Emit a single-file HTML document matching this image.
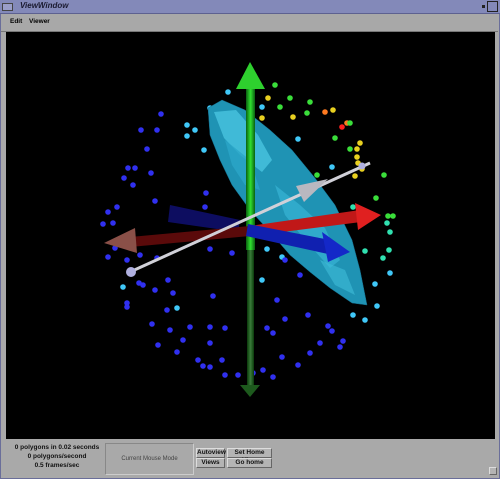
<!DOCTYPE html>
<html><head><meta charset="utf-8"><style>
body{margin:0;width:500px;height:479px;overflow:hidden;background:#a9a9a9;font-family:"Liberation Sans",sans-serif;position:relative}
.abs{position:absolute}
.btn{position:absolute;background:#b4b4b4;border:1px solid #ddd;border-right-color:#666;border-bottom-color:#666;font-size:6.5px;font-weight:bold;text-align:center;line-height:8px;color:#111}
.st{position:absolute;font-size:6.5px;font-weight:bold;color:#111;width:110px;text-align:center;left:2px}
</style></head><body>
<div class="abs" style="left:0;top:0;width:498px;height:477px;border:1px solid #6a6e9a"></div>
<div class="abs" style="left:0;top:0;width:500px;height:13px;background:#8389b9;border-bottom:1px solid #5d6190">
 <div class="abs" style="left:2px;top:3px;width:9px;height:6px;border:1px solid #444;background:#9a9ec8"></div>
 <div class="abs" style="left:20px;top:1px;font-size:8px;font-style:italic;font-weight:bold;color:#1a1a30">ViewWindow</div>
 <div class="abs" style="left:480px;top:3px;width:3px;height:3px;background:#222;margin:2px"></div>
 <div class="abs" style="left:487px;top:1px;width:9px;height:9px;border:1px solid #222"></div>
</div>
<div class="abs" style="left:1px;top:14px;width:497px;height:17px;background:#a8a8a8;border-bottom:1px solid #777">
 <span class="abs" style="left:9px;top:4px;font-size:6.5px;font-weight:bold">Edit</span>
 <span class="abs" style="left:28px;top:4px;font-size:6.5px;font-weight:bold">Viewer</span>
</div>
<svg class="abs" style="left:0;top:0" width="500" height="479">
<defs>
 <linearGradient id="gv" x1="0" x2="1"><stop offset="0" stop-color="#0a6010"/><stop offset=".5" stop-color="#30e030"/><stop offset="1" stop-color="#0a6010"/></linearGradient>
 <linearGradient id="gvd" x1="0" x2="1"><stop offset="0" stop-color="#0a3a0a"/><stop offset=".5" stop-color="#3a7a3a"/><stop offset="1" stop-color="#0a3a0a"/></linearGradient>
</defs>
<rect x="6" y="32" width="489" height="407" fill="#000"/>
<g id="pts"></g>
<!-- dark blue faint left -->
<path d="M170,205 L240,220 L238,232 L168,222 Z" fill="#0d0d60"/>
<!-- lower green axis -->
<g>
 <rect x="247" y="250" width="7" height="140" fill="url(#gvd)"/>
 <polygon points="240,385 260,385 250,397" fill="#1d5a1d"/>
</g>
<!-- cyan blob -->
<g>
<polygon points="208,108 222,100 245,110 270,130 292,150 315,178 335,205 352,240 360,270 367,305 352,303 330,288 310,272 290,255 270,232 250,210 232,185 220,160 210,135" fill="#1f93b4" stroke="#146a88" stroke-width=".5"/>
<polygon points="214,112 236,110 258,135 272,160 262,172 240,155 224,138" fill="#48c4e0" opacity=".8"/>
<polygon points="275,185 300,205 325,228 340,260 330,268 305,240 285,215" fill="#38b4d4" opacity=".7"/>
<polygon points="225,140 250,160 260,190 245,185 232,165" fill="#2aa6c8" opacity=".8"/>
<polygon points="320,260 345,270 355,295 335,285" fill="#40bcd8" opacity=".6"/>
</g>
<!-- upper green axis -->
<g>
 <rect x="246" y="85" width="9" height="165" fill="url(#gv)"/>
 <polygon points="236,89 265,89 250,62" fill="#2ed02e"/>
</g>
<!-- red / brown axis -->
<g>
 <path d="M130,237 L250,226 L250,236 L130,247 Z" fill="#5a0a0a"/>
 <polygon points="104,243 135,228 137,253" fill="#8a5048"/>
 <path d="M250,226 L360,210 L361,222 L251,236 Z" fill="#c01818"/>
 <polygon points="355,203 381,215 358,230" fill="#e02020"/>
</g>
<!-- blue axis -->
<g>
 <path d="M248,224 L330,240 L328,254 L246,236 Z" fill="#1020b0"/>
 <polygon points="322,232 350,252 328,262" fill="#1428c8"/>
</g>
<!-- white arrow -->
<g>
 <line x1="130" y1="272" x2="370" y2="163" stroke="#d0d0d8" stroke-width="3"/>
 <polygon points="296,186 304,202 328,179" fill="#b8b8c0"/>
 <circle cx="131" cy="272" r="5" fill="#b0b0e0"/>
 <circle cx="362" cy="166" r="3.5" fill="#b0b0e0"/>
</g>
</svg>
<script>
const px=[275,290,310,268,280,307,293,262,325,333,342,347,350,335,350,357,360,357,358,362,355,384,376,388,393,387,390,389,383,390,375,377,365,353,365,342,353,332,317,285,273,298,262,237,228,210,212,187,195,187,204,206,205,161,141,157,147,128,135,151,124,133,155,117,108,113,103,152,108,115,127,140,157,210,232,267,282,285,300,262,277,308,285,267,273,328,332,320,340,343,310,282,298,273,263,253,238,225,210,203,198,222,177,158,170,190,210,225,210,183,152,167,177,155,173,168,213,143,123,127,127,139];
const py=[85,98,102,98,107,113,117,118,112,110,127,123,123,138,149,149,143,157,163,169,176,175,198,216,216,223,232,250,258,273,284,306,320,315,251,226,207,167,175,184,148,139,107,161,92,108,119,125,130,136,150,193,207,114,130,130,149,168,168,173,178,185,201,207,212,223,224,238,257,248,260,255,258,249,253,249,257,260,275,280,300,315,319,328,333,326,331,343,347,341,353,357,365,377,370,373,375,375,367,366,360,360,352,345,330,327,327,328,343,340,324,310,308,290,293,280,296,285,287,303,307,283];
const pc="gggyggyyoyrogggyyyyyyggggttttccccctgtcgggccccccccccbbbbbbbbbbbbbbbbbbbbbbbbccbbcbbbbbbbbbbbbbbbbbbbbbbbbbbbbbbbbcbbbbbcbbbb";
const cols={g:'#3ade3a',y:'#e8d020',o:'#ff7a20',r:'#ff2020',t:'#30e0b0',c:'#40c8f8',b:'#3030f0'};
const g=document.getElementById('pts');
const NS='http://www.w3.org/2000/svg';
for(let i=0;i<px.length;i++){
 const c=document.createElementNS(NS,'circle');
 c.setAttribute('cx',px[i]);c.setAttribute('cy',py[i]);c.setAttribute('r',2.8);
 c.setAttribute('fill',cols[pc[i]]||'#3030f0');
 
 
 g.appendChild(c);
}
</script>
<div class="abs" style="left:0;top:439px;width:500px;height:40px">
 <div class="st" style="top:5px">0 polygons in 0.02 seconds</div>
 <div class="st" style="top:14px">0 polygons/second</div>
 <div class="st" style="top:23px">0.5 frames/sec</div>
 <div class="abs" style="left:105px;top:4px;width:87px;height:30px;border:1px solid #888;border-right-color:#ccc;border-bottom-color:#ccc;font-size:6px;color:#444;text-align:center;line-height:30px">Current Mouse Mode</div>
 <div class="btn" style="left:196px;top:9px;width:27px;height:8px">Autoview</div>
 <div class="btn" style="left:227px;top:9px;width:43px;height:8px">Set Home View</div>
 <div class="btn" style="left:196px;top:19px;width:27px;height:8px">Views</div>
 <div class="btn" style="left:227px;top:19px;width:43px;height:8px">Go home</div>
 <div class="btn" style="left:489px;top:28px;width:6px;height:6px"></div>
</div>
</body></html>
